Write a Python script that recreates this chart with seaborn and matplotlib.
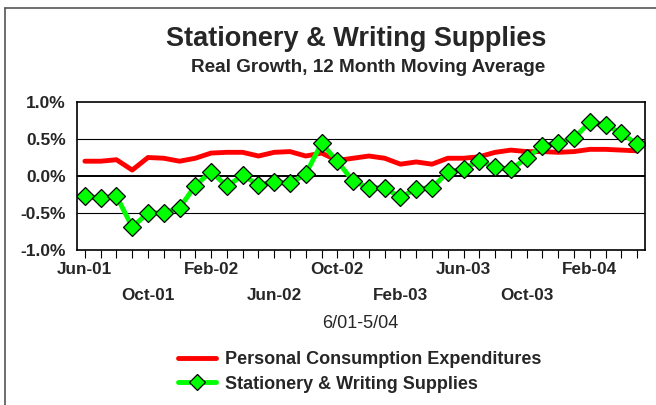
import numpy as np
import pandas as pd
import matplotlib
matplotlib.use("Agg")
import matplotlib.pyplot as plt
from matplotlib.lines import Line2D
import seaborn as sns

# monthly, Jun-01 .. May-04
months = pd.date_range("2001-06-01", "2004-05-01", freq="MS")
pce = [0.20, 0.20, 0.22, 0.08, 0.25, 0.24, 0.20, 0.24, 0.31, 0.32, 0.32, 0.27,
       0.32, 0.33, 0.27, 0.31, 0.21, 0.24, 0.27, 0.24, 0.16, 0.19, 0.16, 0.24,
       0.24, 0.26, 0.32, 0.35, 0.33, 0.33, 0.32, 0.33, 0.36, 0.36, 0.35, 0.34]
stationery = [-0.27, -0.30, -0.27, -0.69, -0.50, -0.50, -0.43, -0.13, 0.06, -0.14, 0.01, -0.12,
              -0.08, -0.10, 0.03, 0.44, 0.20, -0.07, -0.16, -0.16, -0.29, -0.17, -0.16, 0.05,
              0.10, 0.20, 0.12, 0.09, 0.24, 0.41, 0.45, 0.51, 0.73, 0.69, 0.58, 0.43]
tick_labels = [m.strftime("%b-%y") for m in months]

df = pd.DataFrame({"idx": np.arange(len(months)), "pce": pce, "stat": stationery})

sns.set_style("white")
plt.rcParams["font.family"] = ["Liberation Sans", "DejaVu Sans"]

fig = plt.figure(figsize=(6.56, 4.05), dpi=100)
ax = fig.add_axes([77/656, 1-250/405, (645-77)/656, (250-102)/405])

sns.lineplot(data=df, x="idx", y="pce", ax=ax, color="#ff0000", linewidth=3.5,
             label="Personal Consumption Expenditures")
sns.lineplot(data=df, x="idx", y="stat", ax=ax, color="#00ff00", linewidth=3.5,
             marker="D", markersize=9, markerfacecolor="#00ff00",
             markeredgecolor="black", markeredgewidth=0.9,
             label="Stationery & Writing Supplies")

ax.set_xlim(-0.5, len(months) - 0.5)
ax.set_ylim(-1.0, 1.0)
ax.set_yticks([-1.0, -0.5, 0.0, 0.5, 1.0])
ax.set_yticklabels([f"{v:.1f}%" for v in [-1.0, -0.5, 0.0, 0.5, 1.0]],
                   fontsize=12.5, fontweight="bold")
for v in [-0.5, 0.5]:
    ax.axhline(v, color="black", linewidth=0.8, zorder=0)
ax.axhline(0, color="black", linewidth=1.4, zorder=0)

ax.set_xticks(np.arange(len(months)), minor=True)
major = np.arange(0, len(months), 4)
ax.set_xticks(major)
ax.set_xticklabels([tick_labels[i] if k % 2 == 0 else "\n" + tick_labels[i]
                    for k, i in enumerate(major)], fontsize=12.3, fontweight="bold")
for t in ax.get_xticklabels():
    t.set_linespacing(1.85)
ax.tick_params(axis="x", which="both", direction="out", length=6, width=0.8,
               color="black", bottom=True, pad=3)
ax.tick_params(axis="y", length=0, pad=8)
ax.set_xlabel("")
ax.set_ylabel("")
for s in ax.spines.values():
    s.set_color("black")
    s.set_linewidth(1.2)

ax.get_legend().remove()
handles = [Line2D([], [], color="#ff0000", linewidth=3.5),
           Line2D([], [], color="#00ff00", linewidth=3.5, marker="D", markersize=8,
                  markerfacecolor="#00ff00", markeredgecolor="black", markeredgewidth=0.9)]
fig.legend(handles, ["Personal Consumption Expenditures", "Stationery & Writing Supplies"],
           loc="center left", bbox_to_anchor=(178/656, 1-372/405), frameon=False,
           prop={"weight": "bold", "size": 13}, handlelength=2.1, handletextpad=0.5,
           labelspacing=0.4, borderaxespad=0, borderpad=0)

fig.text(356/656, 1-39/405, "Stationery & Writing Supplies", ha="center", va="center",
         fontsize=19.5, fontweight="bold")
fig.text(368/656, 1-68/405, "Real Growth, 12 Month Moving Average", ha="center",
         va="center", fontsize=13.6, fontweight="bold")
fig.text(360/656, 1-324/405, "6/01-5/04", ha="center", va="center", fontsize=13)

# outer frame (left and top edges visible)
fig.add_artist(Line2D([5/656, 5/656], [0, 1-8/405], color="#555555", linewidth=1.2))
fig.add_artist(Line2D([5/656, 1], [1-8/405, 1-8/405], color="#555555", linewidth=1.2))

fig.savefig("out.png", dpi=100)
